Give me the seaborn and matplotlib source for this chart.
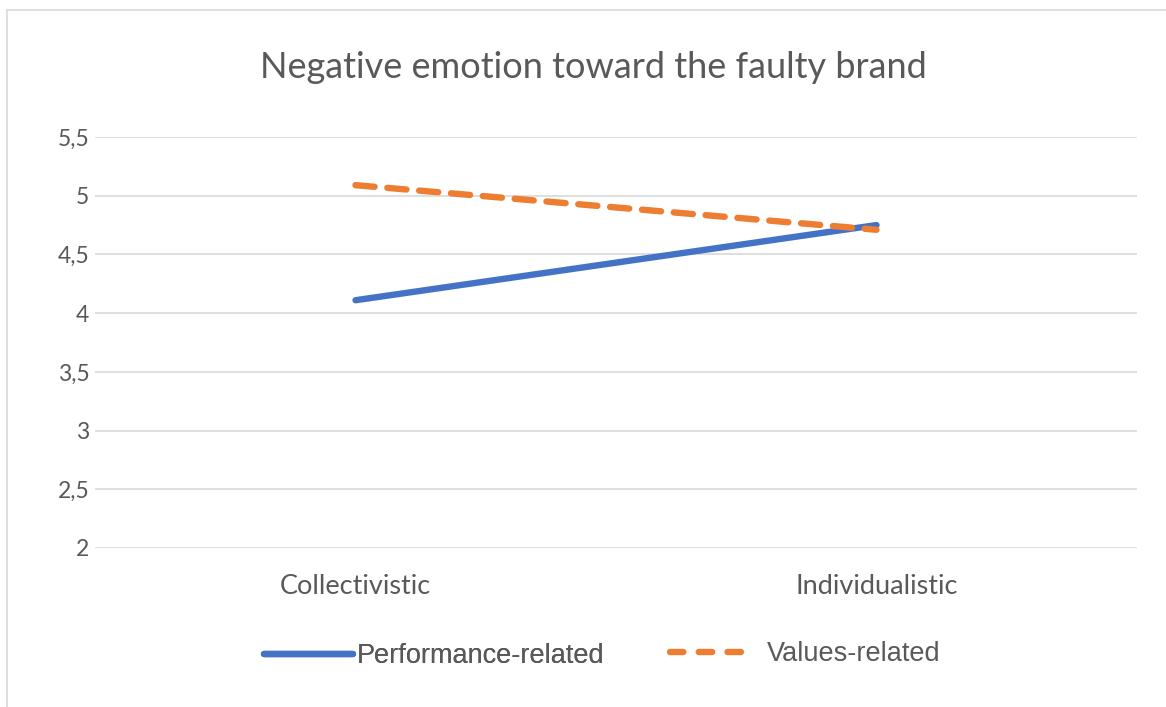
import pandas as pd
import matplotlib.pyplot as plt
import seaborn as sns
from matplotlib.lines import Line2D
from matplotlib.ticker import FuncFormatter

# datos
culturas = ['Collectivistic', 'Individualistic']
performance = [4.11, 4.75]
values = [5.09, 4.71]
series = ['Performance-related', 'Values-related']

df = pd.DataFrame({
    'cultura': culturas * 2,
    'valor': performance + values,
    'serie': [series[0]] * 2 + [series[1]] * 2,
})

sns.set_theme(style="white")
plt.rcParams['font.family'] = ['Lato', 'DejaVu Sans']

fig = plt.figure(figsize=(11.66, 7.07), dpi=100)
ax = fig.add_axes([95 / 1166, 1 - 548 / 707, (1137 - 95) / 1166, (548 - 137) / 707])

colores = {series[0]: '#4472C4', series[1]: '#ED7D31'}
sns.lineplot(data=df, x='cultura', y='valor', hue='serie', style='serie',
             palette=colores, dashes={series[0]: '', series[1]: (3.0, 2.0)},
             linewidth=4.6, ax=ax, legend=False)
for ln in ax.lines:
    ln.set_solid_capstyle('round')
    ln.set_dash_capstyle('round')

ax.set_xlim(-0.5, 1.5)
ax.set_ylim(2, 5.5)
ax.set_yticks([2, 2.5, 3, 3.5, 4, 4.5, 5, 5.5])
ax.yaxis.set_major_formatter(FuncFormatter(lambda v, p: f'{v:g}'.replace('.', ',')))
ax.grid(axis='y', color='#D9D9D9', linewidth=1.2)
ax.set_axisbelow(True)
for s in ax.spines.values():
    s.set_visible(False)
ax.tick_params(axis='both', length=0, colors='#595959')
ax.tick_params(axis='x', pad=19, labelsize=19.5)
ax.tick_params(axis='y', pad=4, labelsize=16.5)
ax.set_xlabel('')
ax.set_ylabel('')

fig.text(593 / 1166, 1 - 68 / 707, 'Negative emotion toward the faulty brand',
         ha='center', va='center', fontsize=26, color='#595959')

# leyenda: dos bloques separados, como en el original
h_perf = Line2D([], [], color=colores[series[0]], linewidth=4.6, solid_capstyle='round')
h_val = Line2D([], [], color=colores[series[1]], linewidth=4.6, linestyle=(0, (2.1, 2.4)),
               dash_capstyle='round')
ley_prop = {'family': 'Liberation Sans', 'size': 19.5}
leg1 = fig.legend([h_perf], [series[0]], loc='center left',
                  bbox_to_anchor=(250 / 1166, 1 - 656 / 707), frameon=False,
                  labelcolor='#595959', handlelength=3.3, handletextpad=0.15,
                  borderpad=0, prop=ley_prop)
fig.legend([h_val], [series[1]], loc='center left',
           bbox_to_anchor=(656 / 1166, 1 - 654 / 707), frameon=False,
           labelcolor='#595959', handlelength=2.9, handletextpad=0.7,
           borderpad=0, prop=ley_prop)
fig.add_artist(leg1)

# borde del área del gráfico
fig.add_artist(Line2D([7 / 1166, 7 / 1166], [0, 1 - 10 / 707], color='#D9D9D9', linewidth=1.2))
fig.add_artist(Line2D([7 / 1166, 1], [1 - 10 / 707, 1 - 10 / 707], color='#D9D9D9', linewidth=1.2))

fig.savefig('out.png', dpi=100)
